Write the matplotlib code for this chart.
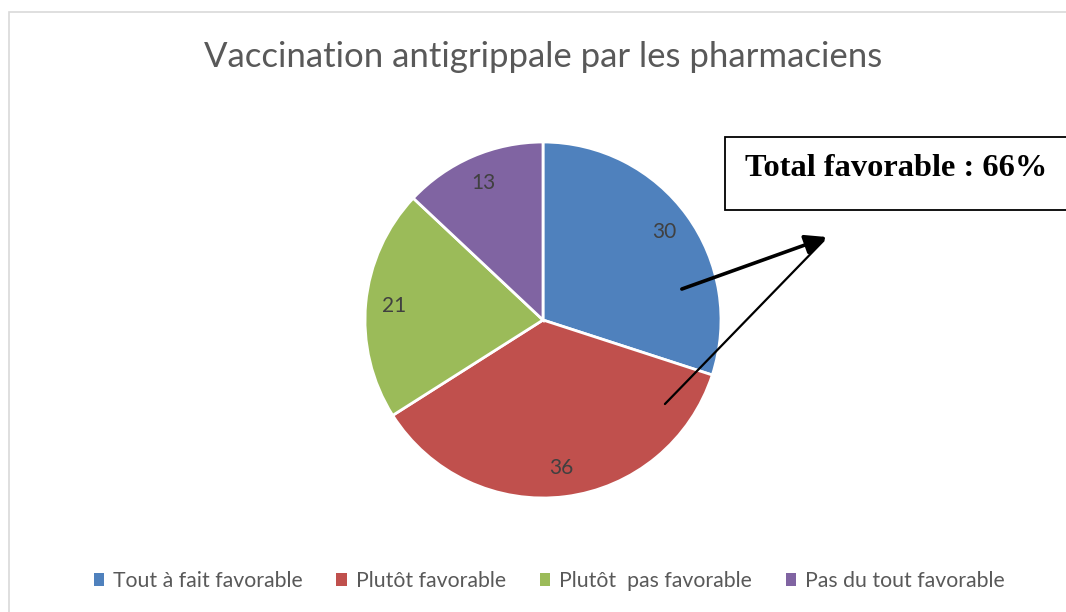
import matplotlib.pyplot as plt
from matplotlib.patches import Patch, Rectangle

# data
categories = ["Tout à fait favorable", "Plutôt favorable",
              "Plutôt  pas favorable", "Pas du tout favorable"]
values = [30, 36, 21, 13]
colors = ["#4F81BD", "#C0504D", "#9BBB59", "#8064A2"]
title = "Vaccination antigrippale par les pharmaciens"
note = "Total favorable : 66%"

W, H = 1066, 612
plt.rcParams["font.family"] = ["Lato", "DejaVu Sans"]
text_gray = "#595959"

fig = plt.figure(figsize=(W / 100, H / 100), dpi=100)

# light chart border (runs off the right/bottom of the crop)
fig.patches.append(Rectangle((9 / W, -0.1), 1.2, 1.1 - 12 / H,
                             transform=fig.transFigure, fill=False,
                             edgecolor="#D9D9D9", linewidth=1.2))

fig.text(543 / W, 1 - 57 / H, title, ha="center", va="center",
         fontsize=25, color=text_gray)

# pie: centre (543, 320) px, radius 178 px
cx, cy, r = 543, 320, 178
ax = fig.add_axes([(cx - r) / W, 1 - (cy + r) / H, 2 * r / W, 2 * r / H])
wedges, texts = ax.pie(values, colors=colors, startangle=90, counterclock=False,
                       labels=[str(v) for v in values], labeldistance=0.84,
                       wedgeprops=dict(edgecolor="white", linewidth=2),
                       textprops=dict(fontsize=15, color="#404040"))
for t in texts:
    t.set_ha("center")
    t.set_va("center")
ax.set_xlim(-1, 1)
ax.set_ylim(-1, 1)
ax.set_aspect("equal")
ax.axis("off")

# annotation box
fig.patches.append(Rectangle((725 / W, 1 - 210 / H), 400 / W, 73 / H,
                             transform=fig.transFigure, fill=True,
                             facecolor="white", edgecolor="black", linewidth=1.3))
fig.text(896 / W, 1 - 168 / H, note, ha="center", va="center",
         fontsize=23.3, fontweight="bold", family="Liberation Serif", color="black")

# arrows (in pie data units)
tip = (1.596, 0.466)
ax.annotate("", xy=tip, xytext=(0.78, 0.174), annotation_clip=False,
            arrowprops=dict(arrowstyle="-|>,head_length=1.3,head_width=0.6",
                            color="black", lw=2.6, shrinkA=0, shrinkB=0))
ax.annotate("", xy=(tip[0] - 0.02, tip[1] - 0.02), xytext=(0.685, -0.472),
            annotation_clip=False,
            arrowprops=dict(arrowstyle="-", color="black", lw=1.6,
                            shrinkA=0, shrinkB=0))

handles = [Patch(facecolor=c, edgecolor="none") for c in colors]
fig.legend(handles, categories, loc="center", bbox_to_anchor=(549 / W, 1 - 581 / H),
           ncol=4, frameon=False, fontsize=15.3, labelcolor=text_gray,
           handlelength=0.5, handleheight=0.5, handletextpad=0.4,
           columnspacing=1.6)

fig.savefig("out.png", dpi=100)
